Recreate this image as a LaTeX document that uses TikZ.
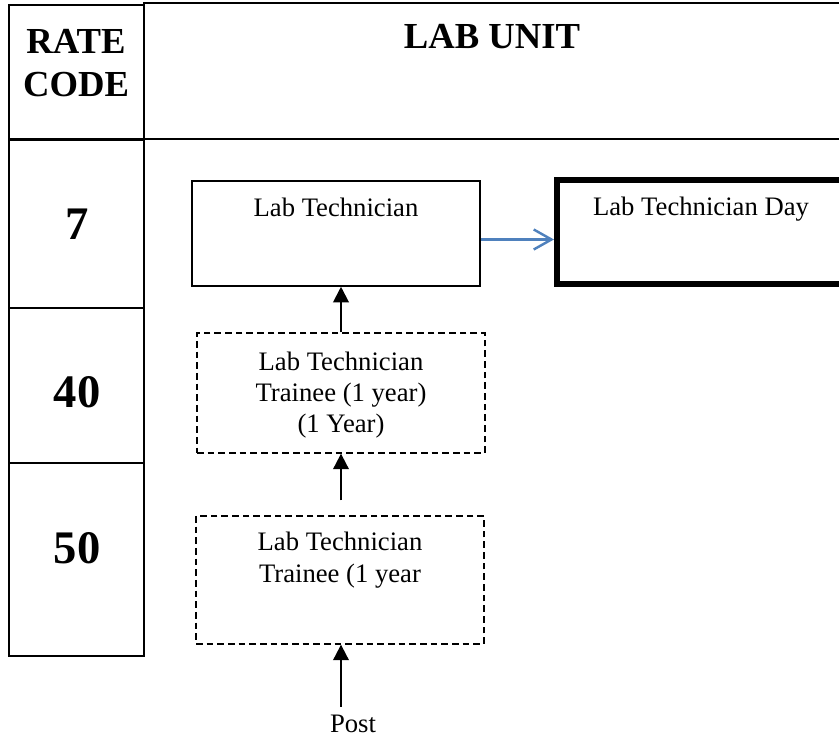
\documentclass[tikz,border=0pt]{standalone}
\usepackage{fontspec}
\setmainfont{Liberation Serif}
\usetikzlibrary{arrows.meta,positioning}

\definecolor{linkblue}{RGB}{79,129,189}

\begin{document}
\begin{tikzpicture}[x=0.45pt,y=-0.45pt,
    grid/.style={line width=0.7pt},
    post/.style={draw, line width=0.7pt, minimum width=288*0.45pt, inner sep=0pt},
    vacant/.style={post, line width=0.6pt, dash pattern=on 3pt off 1.8pt},
    head/.style={font=\fontsize{16.5}{19}\selectfont\bfseries, align=center, inner sep=0pt},
    code/.style={font=\fontsize{21}{24}\selectfont\bfseries, inner sep=0pt},
    txt/.style={font=\fontsize{12}{14}\selectfont, align=center, inner sep=0pt},
    up/.style={line width=0.9pt, -{Triangle[length=7pt,width=7pt]}},
    link/.style={line width=1.1pt, linkblue, -{Straight Barb[length=8pt,width=9pt]}}]

  \useasboundingbox (0,0) rectangle (839,740);
  \clip (0,0) rectangle (839,740);

  % table
  \draw[grid] (9,5) rectangle (144,139);
  \draw[grid] (144,3) rectangle (845,139);
  \draw[grid] (9,140) rectangle (144,308);
  \draw[grid] (9,308) rectangle (144,463);
  \draw[grid] (9,463) rectangle (144,656);

  \node[head] (rate) at (76,63) {RATE\\CODE};
  \node[head] (unit) at (492,37) {LAB UNIT};
  \node[code] (c7)  at (77,224) {7};
  \node[code] (c40) at (77,392) {40};
  \node[code] (c50) at (77,548) {50};

  % posts
  \node[post, minimum height=105*0.45pt] (tech) at (336,233.5) {};
  \node[post, line width=2.7pt, minimum height=104*0.45pt] (day) at (701,232) {};
  \node[vacant, minimum height=120*0.45pt] (tr1) at (341,393) {};
  \node[vacant, minimum height=128*0.45pt] (tr2) at (340,580) {};

  \node[txt, anchor=north, below=8pt of tech.north] (techtxt) {Lab Technician};
  \node[txt, anchor=north, below=9pt of day.north] (daytxt) {Lab Technician Day};
  \node[txt, anchor=north, below=8.5pt of tr1.north] (tr1txt) {Lab Technician\\Trainee (1 year)\\(1 Year)};
  \node[txt, anchor=north, below=7.5pt of tr2.north] (tr2txt) {Lab Technician\\Trainee (1 year};

  \node[txt] (post) at (353,723.5) {Post};
  \coordinate (entry) at (341,707);

  % arrows
  \draw[up] (tr1.north) -- (tr1.north |- tech.south);
  \draw[up, shorten <=6.75pt] (tr1.south |- tr2.north) -- (tr1.south);
  \draw[up] (entry) -- (entry |- tr2.south);
  \draw[link] ([yshift=-2.7pt]tech.east) -- ([yshift=-2.7pt]tech.east -| day.west);
\end{tikzpicture}
\end{document}
